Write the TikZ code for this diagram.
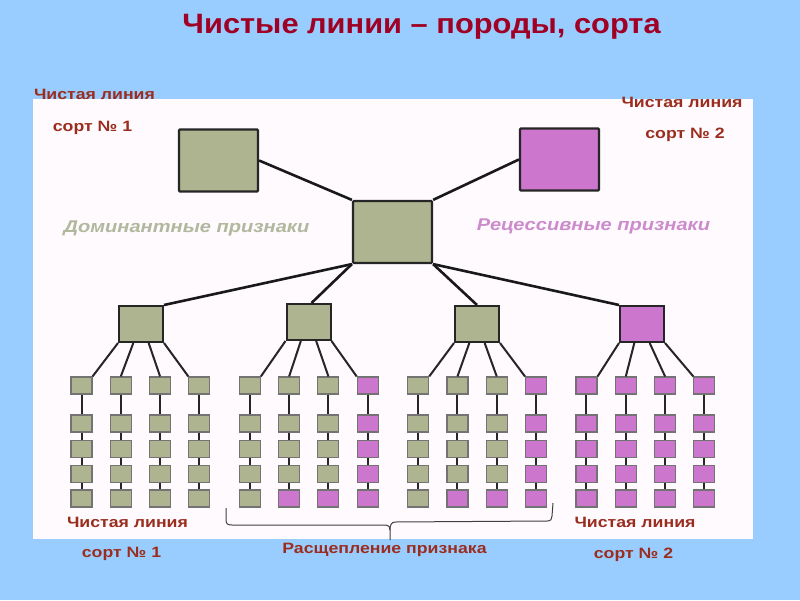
\documentclass[tikz,border=0pt]{standalone}
\usepackage{fontspec}
\setmainfont{Liberation Sans}
\newfontfamily\labfont[FakeStretch=1.18]{Liberation Sans}
\newfontfamily\titlefont[FakeStretch=1.10]{Liberation Sans}
\usetikzlibrary{calc}
\definecolor{bgc}{RGB}{153,204,255}
\definecolor{paper}{RGB}{254,250,254}
\definecolor{gclr}{RGB}{174,180,143}
\definecolor{mclr}{RGB}{205,118,205}
\definecolor{lbl}{RGB}{155,45,30}
\definecolor{ttl}{RGB}{160,0,35}
\definecolor{domc}{RGB}{178,184,158}
\definecolor{recc}{RGB}{204,140,204}
\begin{document}
\begin{tikzpicture}[x=1pt,y=-1pt,
  bigbox/.style={draw=black!85,line width=2.2pt,minimum width=79pt,minimum height=62pt,inner sep=0pt,rounded corners=1pt},
  midbox/.style={draw=black!85,line width=2pt,minimum width=44pt,minimum height=36pt,inner sep=0pt},
  smallbox/.style={draw=black!55,line width=1.1pt,minimum width=21pt,minimum height=17pt,inner sep=0pt},
  link/.style={line width=2.6pt,black!90},
  thinlink/.style={line width=2pt,black!85},
  lab/.style={text=lbl,font=\labfont\fontsize{15}{18}\selectfont\bfseries,anchor=base,inner sep=0pt},
  trait/.style={font=\labfont\fontsize{17}{20}\selectfont\bfseries\itshape,anchor=base,inner sep=0pt},
  bracestyle/.style={line width=1pt,black!75}]
\fill[bgc] (0,0) rectangle (800,600);
\useasboundingbox (0,0) rectangle (800,600);
\fill[paper] (33,99) rectangle (753,539);

% title
\node[text=ttl,font=\titlefont\fontsize{28}{34}\selectfont\bfseries,anchor=base,inner sep=0pt] (title) at (421.5,33) {Чистые линии – породы, сорта};

% parents and F1
\node[bigbox,fill=gclr] (p1) at (218.5,160.5) {};
\node[bigbox,fill=mclr] (p2) at (559.5,159.5) {};
\node[bigbox,fill=gclr] (f1) at (392.5,232) {};
\draw[link] (p1.east) -- (f1.north west);
\draw[link] (p2.west) -- (f1.north east);

% F2
\node[midbox,fill=gclr] (m1) at (141,324) {};
\node[midbox,fill=gclr] (m2) at (308.5,322) {};
\node[midbox,fill=gclr] (m3) at (477,324) {};
\node[midbox,fill=mclr] (m4) at (642,324) {};
\draw[link] (f1.south west) -- (m1.north east);
\draw[link] (f1.south west) -- ($(m2.north)+(3,0)$);
\draw[link] (f1.south east) -- (m3.north);
\draw[link] (f1.south east) -- (m4.north west);

% lines of descendants
\foreach \g in {1,2,3,4}{
  \foreach \c in {1,2,3,4}{
    \foreach \r/\yy in {1/385.5,2/423.5,3/449,4/474,5/498.5}{
      \pgfmathsetmacro{\xx}{81.5+(\g-1)*168.33+(\c-1)*39.3}
      \def\clr{gclr}
      \ifnum\g>1 \ifnum\c=4 \def\clr{mclr}\fi\fi
      \ifnum\g>1 \ifnum\r=5 \ifnum\c>1 \def\clr{mclr}\fi\fi\fi
      \ifnum\g=4 \def\clr{mclr}\fi
      \node[smallbox,fill=\clr] (s-\g-\c-\r) at (\xx,\yy) {};
    }
    \foreach \r in {1,2,3,4}{
      \pgfmathtruncatemacro{\rn}{\r+1}
      \draw[thinlink] (s-\g-\c-\r.south) -- (s-\g-\c-\rn.north);
    }
  }
  \draw[thinlink] (m\g.south west) -- (s-\g-1-1.north east);
  \draw[thinlink] ($(m\g.south west)!0.3333!(m\g.south east)$) -- (s-\g-2-1.north);
  \draw[thinlink] ($(m\g.south west)!0.6667!(m\g.south east)$) -- (s-\g-3-1.north);
  \draw[thinlink] (m\g.south east) -- (s-\g-4-1.north west);
}

% brace
\draw[bracestyle] (226,508) -- (226,520) .. controls (226,524) and (228,525) .. (232,525) -- (386,525) .. controls (389,525) and (390,527) .. (390,530) -- (390,540);
\draw[bracestyle] (390,530) .. controls (390,526) and (391,522) .. (395,522) -- (547,521) .. controls (551,521) and (552,519) .. (552,516) -- (553,503);

% labels
\node[lab] (l1) at (94.5,99) {Чистая линия};
\node[lab] (l2) at (92.5,131) {сорт № 1};
\node[lab] (l3) at (682,107) {Чистая линия};
\node[lab] (l4) at (685,138) {сорт № 2};
\node[trait,text=domc] (dom) at (186.5,232) {Доминантные признаки};
\node[trait,text=recc] (rec) at (593.5,230) {Рецессивные признаки};
\node[lab] (l5) at (127.5,527) {Чистая линия};
\node[lab] (l6) at (121.5,557) {сорт № 1};
\node[lab] (split) at (384.5,553) {Расщепление признака};
\node[lab] (l7) at (635,527) {Чистая линия};
\node[lab] (l8) at (633.5,558) {сорт № 2};
\end{tikzpicture}
\end{document}
